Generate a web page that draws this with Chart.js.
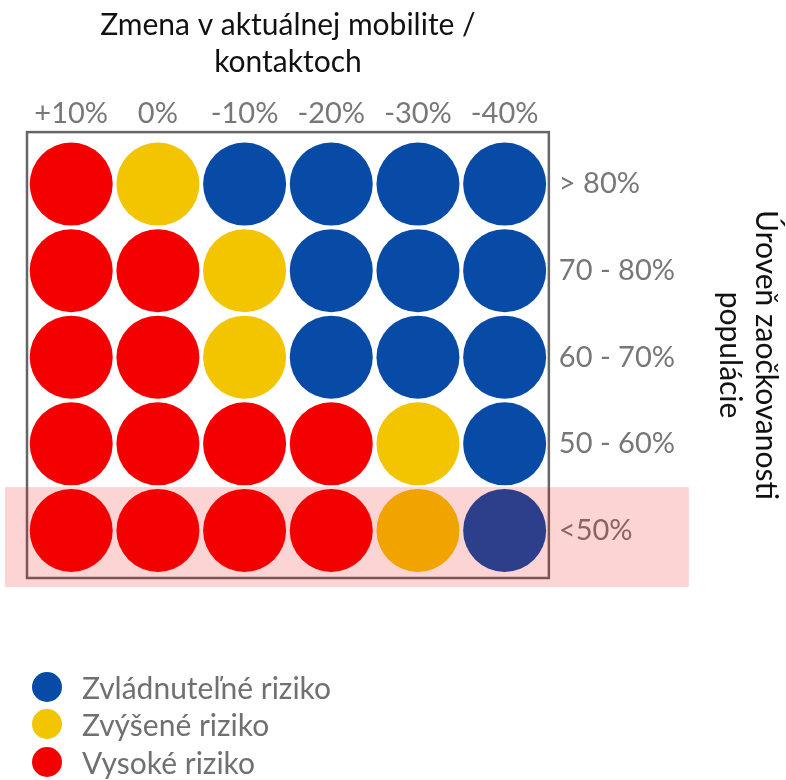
<!DOCTYPE html>
<html>
<head>
<meta charset="utf-8">
<script src="https://cdn.jsdelivr.net/npm/chart.js@4"></script>
<style>
    body { margin: 0; background: #fff; }
    #wrap { position: relative; width: 786px; height: 780px; }
    #legend { position: absolute; left: 32px; top: 668px; font-family: Lato, sans-serif; font-size: 30px; color: #707070; }
    .item { display: flex; align-items: center; height: 37.5px; }
    .dot { width: 30px; height: 30px; border-radius: 50%; margin-right: 20px; }
</style>
</head>
<body>
<div id="wrap">
    <canvas id="myChart"></canvas>
    <div id="legend"></div>
</div>
<script>
var columns = ['+10%', '0%', '-10%', '-20%', '-30%', '-40%'];
var rows = ['> 80%', '70 - 80%', '60 - 70%', '50 - 60%', '<50%'];
var riskLabels = ['Zvládnuteľné riziko', 'Zvýšené riziko', 'Vysoké riziko'];
var riskColors = ['#074ba6', '#f2c500', '#f50000'];

// 0 = zvládnuteľné, 1 = zvýšené, 2 = vysoké (rows top to bottom)
var riskGrid = [
    [2, 1, 0, 0, 0, 0],
    [2, 2, 1, 0, 0, 0],
    [2, 2, 1, 0, 0, 0],
    [2, 2, 2, 2, 1, 0],
    [2, 2, 2, 2, 1, 0]
];

window.onload = function () {

    var datasets = riskLabels.map(function (label, level) {
        var points = [];
        riskGrid.forEach(function (row, r) {
            row.forEach(function (risk, c) {
                if (risk === level) {
                    points.push({ x: c, y: rows.length - 1 - r });
                }
            });
        });
        return {
            label: label,
            data: points,
            backgroundColor: riskColors[level],
            borderWidth: 0,
            pointRadius: 41.5,
            pointHoverRadius: 41.5
        };
    });

    // frame around the grid + pink band over the lowest row
    var frameAndBand = {
        id: 'frameAndBand',
        afterDraw: function (chart) {
            var ctx = chart.ctx;
            var a = chart.chartArea;
            var y = chart.scales.y;
            ctx.save();
            ctx.strokeStyle = '#666';
            ctx.lineWidth = 2.5;
            ctx.strokeRect(a.left, a.top, a.right - a.left, a.bottom - a.top);
            var top = y.getPixelForValue(0.5);
            ctx.fillStyle = 'rgba(237, 0, 0, 0.17)';
            ctx.fillRect(a.left - 22, top, a.right - a.left + 162, a.bottom + 9 - top);
            ctx.restore();
        }
    };

    Chart.defaults.font.family = 'Lato, sans-serif';

    var ctx = document.getElementById('myChart').getContext('2d');

    var myChart = new Chart(ctx, {
        type: 'scatter',
        data: { datasets: datasets },
        options: {
            responsive: true,
            maintainAspectRatio: false,
            animation: false,
            layout: { autoPadding: false, padding: { top: 0, left: 27, right: 0, bottom: 202 } },
            plugins: {
                legend: { display: false },
                tooltip: { enabled: false }
            },
            scales: {
                x: {
                    position: 'top',
                    min: -0.51,
                    max: 5.51,
                    afterBuildTicks: function (scale) {
                        scale.ticks = columns.map(function (c, i) { return { value: i }; });
                    },
                    afterFit: function (scale) {
                        scale.paddingLeft = 0;
                        scale.paddingRight = 0;
                    },
                    ticks: {
                        padding: 1,
                        color: '#777',
                        font: { size: 29 },
                        maxRotation: 0,
                        callback: function (value) { return columns[value]; }
                    },
                    grid: { display: false, drawTicks: false },
                    border: { display: false },
                    title: {
                        display: true,
                        text: ['Zmena v aktuálnej mobilite /', 'kontaktoch'],
                        color: '#111',
                        font: { size: 30, lineHeight: 1.23 },
                        padding: { top: 6.5, bottom: 15 }
                    }
                },
                y: {
                    position: 'right',
                    min: -0.55,
                    max: 4.6,
                    afterBuildTicks: function (scale) {
                        scale.ticks = rows.map(function (r, i) { return { value: i }; });
                    },
                    ticks: {
                        padding: 10,
                        color: '#777',
                        font: { size: 29 },
                        callback: function (value) { return rows[rows.length - 1 - value]; }
                    },
                    grid: { display: false, drawTicks: false },
                    border: { display: false },
                    title: {
                        display: true,
                        text: ['Úroveň zaočkovanosti', 'populácie'],
                        color: '#111',
                        font: { size: 30, lineHeight: 1.2 },
                        padding: { top: 2, bottom: 27 }
                    }
                }
            }
        },
        plugins: [frameAndBand]
    });

    // legend built from the datasets
    var legend = document.getElementById('legend');
    myChart.data.datasets.forEach(function (ds) {
        var item = document.createElement('div');
        item.className = 'item';
        var dot = document.createElement('span');
        dot.className = 'dot';
        dot.style.background = ds.backgroundColor;
        var text = document.createElement('span');
        text.textContent = ds.label;
        item.appendChild(dot);
        item.appendChild(text);
        legend.appendChild(item);
    });
};
</script>
</body>
</html>
